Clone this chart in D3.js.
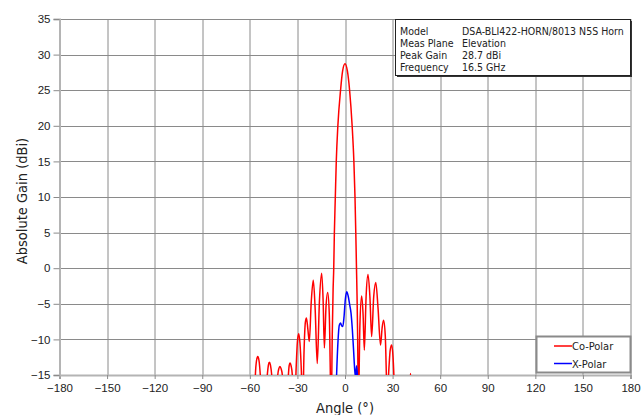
<!DOCTYPE html>
<html>
<head>
<meta charset="utf-8">
<script src="https://cdn.jsdelivr.net/npm/d3@7"></script>
<style>
  body { margin: 0; background: #fff; }
  svg { display: block; font-family: "DejaVu Sans Condensed", "DejaVu Sans", sans-serif; }
</style>
</head>
<body>
<div id="chart"></div>
<script>
// Data
const coAngles = [-60, -57.5, -56.5, -55.8, -55.0, -54.2, -53.4, -51.5, -49.0, -48.3, -47.7, -47.0, -46.2,
  -44.3, -42.4, -41.7, -41.0, -40.3, -39.5, -37.6, -35.7, -35.2, -34.6, -34.0, -33.2, -32.0,
  -30.8, -30.0, -29.2, -28.4, -27.5, -26.7, -25.8, -25.0, -24.3, -23.4, -22.5, -21.3, -20.0,
  -18.8, -17.5, -16.1, -14.7, -13.8, -13.0, -12.0, -10.9, -9.9, -8.7, -8.0, -7.5, -7.1, -6.7,
  -6.1, -5.5, -4.5, -2.8, -1.5, 0, 1.5, 2.9, 4.5, 5.6, 6.3, 6.8, 7.2, 7.6, 8.0, 8.4, 9.4, 10.5,
  11.4, 12.2, 13.3, 14.5, 15.7, 16.8, 18.1, 19.4, 20.8, 22.4, 23.4, 24.3, 25.4, 26.6, 27.7,
  28.5, 29.4, 30.3, 31.0, 32.5, 40.5, 41.3, 42.1, 44];
const coGain = [-30, -24, -15, -13.0, -12.4, -13.0, -15, -24, -15, -13.6, -13.2, -13.6, -15,
  -24, -15, -14.1, -13.8, -14.1, -15, -24, -15, -13.7, -13.3, -13.7, -15, -22,
  -14, -10.3, -9.2, -10.5, -14.5, -20, -11.5, -7.6, -7.0, -8.6, -10.3, -4.8, -1.7,
  -5.8, -13.4, -4.5, -0.7, -4.5, -11.2, -5.5, -3.4, -6.5, -20, -9, -3, 0, 5,
  10, 15, 20, 25, 27.7, 28.7, 27.7, 25, 20, 15, 10, 5, 0.5, -4, -10, -20, -8, -3.9,
  -6.5, -11.5, -4, -0.9, -4, -9.6, -4, -2, -5.5, -10.8, -8.4, -7.3, -9.5, -18, -14,
  -11.5, -10.8, -12.5, -16, -25, -18, -14.8, -18, -30];

const xpAngles = [-6.2, -5.3, -4.4, -3.6, -2.8, -2.1, -1.4, -0.6, 0.2, 1.1, 2.0, 3.0, 3.8, 4.6,
  5.4, 6.2, 6.7, 7.3, 7.9, 8.5];
const xpGain = [-22, -15, -10.2, -8.0, -7.7, -8.1, -8.2, -6.8, -4.4, -3.3, -3.9, -5.2, -6.3, -8.5,
  -11.5, -14.5, -15.3, -13.7, -15.5, -22];

const xTicks = [-180, -150, -120, -90, -60, -30, 0, 30, 60, 90, 120, 150, 180];
const yTicks = [-15, -10, -5, 0, 5, 10, 15, 20, 25, 30, 35];

const infoLabels = ["Model", "Meas Plane", "Peak Gain", "Frequency"];
const infoValues = ["DSA-BLI422-HORN/8013 N5S Horn", "Elevation", "28.7 dBi", "16.5 GHz"];

const seriesNames = ["Co-Polar", "X-Polar"];
const seriesColors = ["#ff0000", "#0000ff"];

// Dimensions
const W = 641, H = 415;
const margin = { top: 19, right: 10.5, bottom: 40, left: 59.5 };
const plotW = W - margin.left - margin.right;
const plotH = H - margin.top - margin.bottom;

const svg = d3.select("#chart").append("svg")
  .attr("width", W)
  .attr("height", H);

svg.append("rect").attr("width", W).attr("height", H).attr("fill", "#fff");

const g = svg.append("g")
  .attr("transform", `translate(${margin.left},${margin.top})`);

const x = d3.scaleLinear().domain([-180, 180]).range([0, plotW]);
const y = d3.scaleLinear().domain([-15, 35]).range([plotH, 0]);

// Grid
g.selectAll(".vgrid").data(xTicks).enter().append("line")
  .attr("x1", d => Math.round(x(d)) + 0.5).attr("x2", d => Math.round(x(d)) + 0.5)
  .attr("y1", 0).attr("y2", plotH)
  .attr("stroke", "#8a8a8a").attr("stroke-width", 1);

g.selectAll(".hgrid").data(yTicks).enter().append("line")
  .attr("x1", 0).attr("x2", plotW)
  .attr("y1", d => Math.round(y(d)) + 0.5).attr("y2", d => Math.round(y(d)) + 0.5)
  .attr("stroke", "#8a8a8a").attr("stroke-width", 1);

// Axes
const xAxis = d3.axisBottom(x).tickValues(xTicks).tickSize(4).tickPadding(5);
const yAxis = d3.axisLeft(y).tickValues(yTicks).tickSize(6).tickPadding(3);

const gx = g.append("g").attr("transform", `translate(0,${plotH})`).call(xAxis);
const gy = g.append("g").call(yAxis);

[gx, gy].forEach(a => {
  a.select(".domain").attr("stroke", "#b4b4b4").attr("stroke-width", 2);
  a.selectAll(".tick line").attr("stroke", "#8a8a8a");
  a.selectAll(".tick text").attr("fill", "#222").style("font-size", "11.5px");
});

// Axis titles
svg.append("text")
  .attr("x", margin.left + x(0))
  .attr("y", 413)
  .attr("text-anchor", "middle")
  .style("font-size", "14.5px")
  .attr("fill", "#222")
  .text("Angle (°)");

svg.append("text")
  .attr("transform", "translate(27,201) rotate(-90)")
  .attr("text-anchor", "middle")
  .style("font-size", "14.5px")
  .attr("fill", "#222")
  .text("Absolute Gain (dBi)");

// Traces
svg.append("clipPath").attr("id", "plotClip")
  .append("rect").attr("width", plotW).attr("height", plotH);

const line = d3.line()
  .x(d => x(d[0]))
  .y(d => y(d[1]))
  .curve(d3.curveMonotoneX);

const traces = [
  d3.zip(coAngles, coGain),
  d3.zip(xpAngles, xpGain)
];

g.append("g").attr("clip-path", "url(#plotClip)")
  .selectAll("path").data(traces).enter().append("path")
  .attr("d", line)
  .attr("fill", "none")
  .attr("stroke", (d, i) => seriesColors[i])
  .attr("stroke-width", 1.5);

// Info box
const info = svg.append("g").attr("transform", "translate(395.5,19.5)");
info.append("rect")
  .attr("x", 1.5).attr("y", 1.5).attr("width", 235).attr("height", 56)
  .attr("fill", "#333");
info.append("rect")
  .attr("width", 235).attr("height", 56)
  .attr("fill", "#fff").attr("stroke", "#222").attr("stroke-width", 1);

info.selectAll(".lab").data(infoLabels).enter().append("text")
  .attr("x", 4.5).attr("y", (d, i) => 15 + i * 12)
  .style("font-size", "10.5px").attr("fill", "#222")
  .text(d => d);
info.selectAll(".val").data(infoValues).enter().append("text")
  .attr("x", 66.5).attr("y", (d, i) => 15 + i * 12)
  .style("font-size", "10.5px").attr("fill", "#222")
  .text(d => d);

// Legend
const leg = svg.append("g").attr("transform", "translate(536.5,336.5)");
leg.append("rect")
  .attr("width", 94).attr("height", 36)
  .attr("fill", "#fff").attr("stroke", "#8a8a8a").attr("stroke-width", 2);

seriesNames.forEach((name, i) => {
  const ly = 9.5 + i * 17.5;
  leg.append("line")
    .attr("x1", 17.5).attr("x2", 35.5).attr("y1", ly).attr("y2", ly)
    .attr("stroke", seriesColors[i]).attr("stroke-width", 1.5);
  leg.append("text")
    .attr("x", 35.5).attr("y", ly + 4)
    .style("font-size", "11px").attr("fill", "#222")
    .text(name);
});
</script>
</body>
</html>
